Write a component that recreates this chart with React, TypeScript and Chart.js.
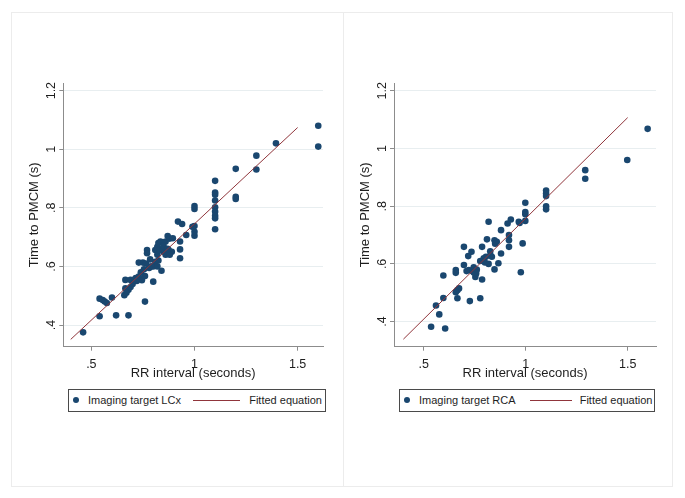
import React, { useEffect, useRef } from 'react';
import { Chart, registerables } from 'chart.js';

Chart.register(...registerables);

const FONT = "'Liberation Sans', Arial, Helvetica, sans-serif";
const NAVY = '#1a476f';
const MAROON = '#90353b';
const AXIS = '#8c8c8c';
const GRID = '#e8eef0';
const TEXT = '#1e1e1e';

const xTicks = [0.5, 1, 1.5];
const yTicks = [0.4, 0.6, 0.8, 1, 1.2];
const xTitle = 'RR interval (seconds)';
const yTitle = 'Time to PMCM (s)';
const fitLabel = 'Fitted equation';

// Panel 1: Imaging target LCx
const lcxX = [
  0.46, 0.54, 0.54, 0.555, 0.565, 0.575, 0.6, 0.62, 0.68, 0.66,
  0.665, 0.665, 0.68, 0.69, 0.69, 0.7, 0.715, 0.73, 0.745, 0.76,
  0.76, 0.8, 0.73, 0.75, 0.765, 0.785, 0.8, 0.81, 0.825, 0.84,
  0.77, 0.77, 0.81, 0.82, 0.825, 0.835, 0.86, 0.87, 0.88, 0.895,
  0.875, 0.89, 0.85, 0.86, 0.92, 0.94, 0.93, 0.93, 0.93, 0.96,
  1.0, 1.0, 1.0, 0.99, 1.0, 1.0, 1.1, 1.1, 1.1, 1.1,
  1.1, 1.1, 1.1, 1.1, 1.1, 1.2, 1.2, 1.2, 1.3, 1.3,
  1.395, 1.6, 1.6, 0.79, 0.82, 0.83, 0.845, 0.71, 0.67, 0.72,
  0.74, 0.755, 0.78, 0.85, 0.82, 0.88, 0.87,
];
const lcxY = [
  0.375, 0.43, 0.49, 0.485, 0.48, 0.475, 0.494, 0.433, 0.433, 0.502,
  0.525, 0.554, 0.52, 0.53, 0.554, 0.54, 0.56, 0.565, 0.553, 0.567,
  0.48, 0.548, 0.613, 0.613, 0.61, 0.624, 0.6, 0.616, 0.62, 0.585,
  0.656, 0.645, 0.656, 0.667, 0.68, 0.685, 0.685, 0.704, 0.695, 0.696,
  0.656, 0.65, 0.65, 0.64, 0.753, 0.745, 0.685, 0.658, 0.628, 0.707,
  0.705, 0.718, 0.738, 0.735, 0.796, 0.806, 0.892, 0.852, 0.845, 0.825,
  0.802, 0.787, 0.773, 0.764, 0.727, 0.933, 0.838, 0.83, 0.978, 0.931,
  1.02, 1.08, 1.009, 0.6, 0.64, 0.655, 0.66, 0.555, 0.51, 0.55,
  0.58, 0.59, 0.595, 0.67, 0.6, 0.64, 0.66,
];

// Panel 2: Imaging target RCA
const rcaX = [
  0.536, 0.605, 0.576, 0.56, 0.596, 0.596, 0.657, 0.657, 0.665, 0.665,
  0.673, 0.657, 0.726, 0.777, 0.697, 0.718, 0.734, 0.697, 0.721, 0.745,
  0.753, 0.757, 0.737, 0.786, 0.777, 0.794, 0.805, 0.786, 0.81, 0.818,
  0.818, 0.826, 0.834, 0.847, 0.847, 0.858, 0.866, 0.879, 0.879, 0.911,
  0.927, 0.918, 0.918, 0.918, 0.966, 0.976, 0.985, 0.998, 0.998, 0.998,
  0.998, 0.97, 1.1, 1.1, 1.1, 1.1, 1.1, 1.292, 1.292, 1.498,
  1.598, 0.745, 0.8, 0.85, 0.71, 0.76, 0.827,
];
const rcaY = [
  0.382, 0.376, 0.425, 0.456, 0.482, 0.56, 0.579, 0.569, 0.481, 0.509,
  0.515, 0.502, 0.471, 0.481, 0.659, 0.627, 0.642, 0.596, 0.579, 0.588,
  0.555, 0.567, 0.575, 0.546, 0.61, 0.619, 0.625, 0.659, 0.685, 0.746,
  0.6, 0.644, 0.625, 0.581, 0.682, 0.677, 0.602, 0.717, 0.636, 0.74,
  0.754, 0.7, 0.682, 0.659, 0.746, 0.571, 0.671, 0.812, 0.78, 0.772,
  0.749, 0.742, 0.854, 0.844, 0.835, 0.8, 0.789, 0.925, 0.895, 0.96,
  1.068, 0.57, 0.605, 0.67, 0.575, 0.58, 0.63,
];

// Fitted lines (end points)
const fitX = [0.4, 1.5];
const lcxFitY = [0.351, 1.074];
const rcaFitY = [0.339, 1.107];

const fmt = (v: number) => {
  const s = String(Math.round(v * 100) / 100);
  return s.startsWith('0.') ? s.slice(1) : s;
};

type PanelProps = {
  xs: number[];
  ys: number[];
  fitY: number[];
  xMin: number;
  xMax: number;
  yMin: number;
  yMax: number;
  left: number;
  width: number;
  yAxisWidth: number;
};

const CANVAS_TOP = 70;
const CANVAS_H = 315;
const PLOT_TOP = 13;
const X_AXIS_H = 38.3;

function Panel(p: PanelProps) {
  const ref = useRef<HTMLCanvasElement | null>(null);
  useEffect(() => {
    if (!ref.current) return;
    const chart = new Chart(ref.current, {
      type: 'scatter',
      data: {
        datasets: [
          {
            type: 'line',
            data: fitX.map((x, i) => ({ x, y: p.fitY[i] })),
            borderColor: MAROON,
            borderWidth: 1,
            pointRadius: 0,
            fill: false,
            tension: 0,
            order: 0,
            clip: false,
          } as any,
          {
            type: 'scatter',
            data: p.xs.map((x, i) => ({ x, y: p.ys[i] })),
            backgroundColor: NAVY,
            borderColor: NAVY,
            borderWidth: 0,
            pointRadius: 3.3,
            order: 1,
            clip: false,
          } as any,
        ],
      },
      options: {
        responsive: false,
        maintainAspectRatio: false,
        animation: false,
        layout: { padding: { top: PLOT_TOP, left: 0, right: 0, bottom: 0 } },
        plugins: { legend: { display: false }, tooltip: { enabled: false } },
        scales: {
          x: {
            type: 'linear',
            min: p.xMin,
            max: p.xMax,
            afterBuildTicks: (s: any) => {
              s.ticks = xTicks.map((v) => ({ value: v }));
            },
            afterFit: (s: any) => {
              s.height = X_AXIS_H;
            },
            grid: {
              display: true,
              drawOnChartArea: false,
              drawTicks: true,
              tickLength: 4,
              tickColor: AXIS,
            },
            border: { display: true, color: AXIS, width: 1 },
            ticks: {
              callback: (v: any) => fmt(Number(v)),
              color: TEXT,
              font: { family: FONT, size: 12.5 },
              padding: 6.5,
              maxRotation: 0,
              autoSkip: false,
            },
            title: {
              display: true,
              text: xTitle,
              color: TEXT,
              font: { family: FONT, size: 13 },
              padding: { top: 0, bottom: 3.5 },
            },
          },
          y: {
            type: 'linear',
            min: p.yMin,
            max: p.yMax,
            afterBuildTicks: (s: any) => {
              s.ticks = yTicks.map((v) => ({ value: v }));
            },
            afterFit: (s: any) => {
              s.width = p.yAxisWidth;
            },
            grid: {
              display: true,
              drawOnChartArea: true,
              color: GRID,
              lineWidth: 1,
              drawTicks: true,
              tickLength: 4,
              tickColor: AXIS,
            },
            border: { display: true, color: AXIS, width: 1 },
            ticks: {
              callback: (v: any) => fmt(Number(v)),
              color: TEXT,
              font: { family: FONT, size: 12.5 },
              minRotation: 90,
              maxRotation: 90,
              crossAlign: 'center',
              padding: -1,
              autoSkip: false,
            },
            title: {
              display: true,
              text: yTitle,
              color: TEXT,
              font: { family: FONT, size: 13 },
              padding: { top: 6.5, bottom: 0 },
            },
          },
        },
      } as any,
    });
    return () => chart.destroy();
  }, []);
  return (
    <canvas
      ref={ref}
      width={p.width}
      height={CANVAS_H}
      style={{
        position: 'absolute',
        left: p.left,
        top: CANVAS_TOP,
        width: p.width,
        height: CANVAS_H,
      }}
    />
  );
}

type LegendProps = {
  left: number;
  width: number;
  label: string;
  lineLeft: number;
  lineWidth: number;
  textRight: number;
};

function Legend(l: LegendProps) {
  return (
    <div
      style={{
        position: 'absolute',
        left: l.left,
        top: 389,
        width: l.width,
        height: 23,
        border: '1px solid #4a4a4a',
        boxSizing: 'border-box',
        fontFamily: FONT,
        fontSize: 11,
        color: TEXT,
        background: '#fff',
      }}
    >
      <span
        style={{
          position: 'absolute',
          left: 3.6,
          top: 7,
          width: 6.4,
          height: 6.4,
          borderRadius: '50%',
          background: NAVY,
        }}
      />
      <span style={{ position: 'absolute', left: 18.7, top: 0, lineHeight: '21px', whiteSpace: 'nowrap' }}>
        {l.label}
      </span>
      <span
        style={{
          position: 'absolute',
          left: l.lineLeft,
          top: 10,
          width: l.lineWidth,
          height: 1,
          background: MAROON,
        }}
      />
      <span
        style={{
          position: 'absolute',
          right: l.textRight,
          top: 0,
          lineHeight: '21px',
          whiteSpace: 'nowrap',
        }}
      >
        {fitLabel}
      </span>
    </div>
  );
}

export default function App() {
  return (
    <div
      style={{
        position: 'absolute',
        left: 0,
        top: 0,
        width: 685,
        height: 498,
        background: '#fff',
        overflow: 'hidden',
      }}
    >
      <div
        style={{
          position: 'absolute',
          left: 11,
          top: 12,
          width: 662,
          height: 475,
          border: '1px solid #ececec',
          boxSizing: 'border-box',
        }}
      />
      <div
        style={{
          position: 'absolute',
          left: 343,
          top: 12,
          width: 1,
          height: 475,
          background: '#ececec',
        }}
      />
      <Panel
        xs={lcxX}
        ys={lcxY}
        fitY={lcxFitY}
        xMin={0.364}
        xMax={1.623}
        yMin={0.326}
        yMax={1.226}
        left={20}
        width={307}
        yAxisWidth={43.3}
      />
      <Panel
        xs={rcaX}
        ys={rcaY}
        fitY={rcaFitY}
        xMin={0.354}
        xMax={1.639}
        yMin={0.313}
        yMax={1.227}
        left={351}
        width={309}
        yAxisWidth={43}
      />
      <Legend left={68.3} width={257.7} label="Imaging target LCx" lineLeft={123.7} lineWidth={47} textRight={3} />
      <Legend left={399.3} width={255.7} label="Imaging target RCA" lineLeft={129.7} lineWidth={42} textRight={1.5} />
    </div>
  );
}
